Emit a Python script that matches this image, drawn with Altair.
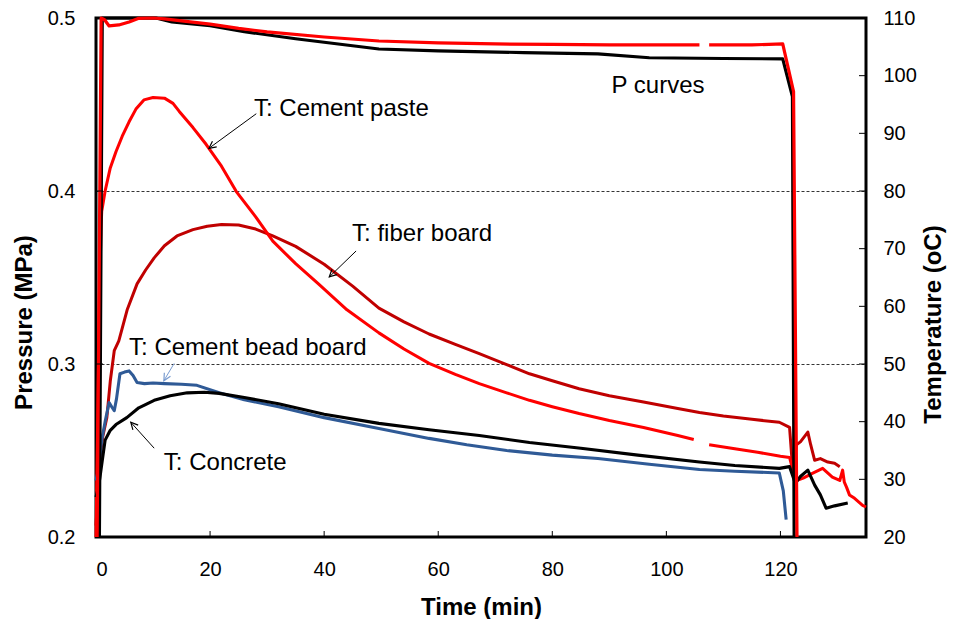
import altair as alt
import pandas as pd

# ---------------- data ----------------
# Pressure, black curve (MPa)
pblack_t = [0.6, 1.1, 5, 10.5, 13.3, 20, 26, 35, 49.6, 60, 75, 88, 97, 110, 120.4, 122.1, 122.4]
pblack_P = [0.200, 0.500, 0.500, 0.500, 0.4977, 0.4955, 0.4921, 0.4880, 0.4821, 0.4810, 0.4800,
            0.4793, 0.4770, 0.4766, 0.4764, 0.4545, 0.200]

# Pressure, red curve (MPa), two pieces (gap near 106 min)
pred_t1 = [0.2, 0.9, 1.5, 2.3, 4, 5.8, 7.5, 10, 12, 15, 20, 25, 30, 40, 49.6, 60, 70, 80, 90, 100, 105.8]
pred_P1 = [0.200, 0.500, 0.499, 0.4954, 0.4960, 0.4977, 0.4998, 0.5000, 0.4995, 0.4983, 0.4965,
           0.4940, 0.4920, 0.4890, 0.4867, 0.4856, 0.4850, 0.4847, 0.4845, 0.4845, 0.4845]
pred_t2 = [107.5, 115, 120.4, 122.3, 122.9]
pred_P2 = [0.4845, 0.4845, 0.4850, 0.4574, 0.200]

# Temperature, cement paste (oC), two pieces
paste_t1 = [0, 0.3, 0.6, 0.9, 1.0, 1.6, 2.5, 3.5, 4.6, 5.8, 7.0, 8.4, 10, 12, 13.5, 14.6, 17, 19.3,
            22, 24.6, 28, 31, 35, 39, 44, 49.6, 54, 58.4, 63, 67.2, 72, 76, 80, 84.7, 90, 96, 102, 104.8]
paste_T1 = [20, 40, 62, 74, 76.5, 80, 84, 86.8, 89.5, 92, 94.2, 95.8, 96.2, 96.1, 95.2, 93.8, 91, 88.1,
            84.3, 79.9, 75.5, 71.3, 67.4, 63.9, 59.4, 55.4, 52.6, 50.1, 48.2, 46.6, 45, 43.7, 42.6, 41.4,
            40.2, 39, 37.6, 36.9]
paste_t2 = [107.5, 112, 116, 120, 121.6, 122.2, 122.8, 124, 125.5, 127.4, 129.1, 130.4, 130.9, 131.2,
            131.6, 132.1, 133, 134.4, 135]
paste_T2 = [36.0, 35.3, 34.7, 34.0, 33.8, 31.5, 29.8, 30.2, 31.0, 31.9, 30.4, 29.8, 31.6, 29.5,
            28.6, 27.3, 26.7, 25.5, 25.2]

# Temperature, fiber board (oC)
fiber_t = [0, 0.3, 0.7, 1.2, 1.9, 2.5, 3.2, 4, 5.5, 7.2, 8.7, 10.2, 12, 14.2, 17, 19.5, 22, 25, 28, 31,
           35, 40, 45, 49.6, 54, 58.4, 63, 67.2, 72, 76, 80, 84.7, 90, 96, 102, 105.8, 110, 115, 119.8,
           121.6, 122.2, 122.8, 123.5, 124.8, 125.3, 126, 127, 128.3, 129.5, 130.4]
fiber_T = [22, 27, 33.8, 37.5, 40.7, 47, 52.3, 54, 59.5, 63.9, 66.3, 68.4, 70.5, 72.2, 73.3, 73.9, 74.2,
           74.1, 73.4, 72.2, 70.4, 67.3, 63.5, 59.7, 57.3, 55.2, 53.4, 51.8, 49.9, 48.3, 47.1, 45.7, 44.5,
           43.4, 42.3, 41.6, 41.0, 40.4, 39.9, 39.0, 31.0, 36.0, 36.5, 38.2, 36.0, 33.3, 33.6, 33.0, 32.8,
           32.2]

# Temperature, cement bead board (oC)
bead_t = [0, 0.5, 1.0, 1.6, 2.3, 2.8, 3.2, 3.6, 4.2, 5.0, 5.8, 6.5, 7.2, 8.5, 10, 12, 15, 17.7, 21.6,
          26, 32, 40, 49.6, 58.4, 65, 72, 80, 88, 97, 105.8, 112, 119.8, 120.5, 121]
bead_T = [29.8, 32, 36.8, 40, 43.3, 42.5, 41.9, 44, 48.3, 48.6, 48.8, 48, 46.8, 46.6, 46.7, 46.6, 46.5,
          46.3, 45.0, 43.8, 42.6, 40.7, 38.8, 37.1, 36.0, 35.0, 34.2, 33.6, 32.6, 31.7, 31.4, 31.1, 28,
          23]

# Temperature, concrete (oC)
conc_t = [0, 0.4, 0.7, 1.2, 1.6, 2.5, 3.5, 5.4, 7.5, 10.2, 13, 16, 19, 21.6, 26, 32, 40, 49.6, 58.4,
          67.2, 76, 85, 95, 105.8, 112, 119.8, 121.6, 122.6, 123.5, 124.8, 126, 127, 128, 129.5, 131.8]
conc_T = [26.9, 28.5, 30.4, 34, 36.8, 38.5, 39.5, 40.7, 42.4, 43.7, 44.5, 45.0, 45.1, 44.9, 44.2, 43.1,
          41.3, 39.7, 38.6, 37.6, 36.4, 35.4, 34.2, 33.0, 32.4, 31.9, 32.2, 29.3, 30.5, 31.6, 29.0, 27.3,
          25.0, 25.4, 25.9]

# Annotations (time, temperature)
label_text = ["T: Cement paste", "P curves", "T: fiber board", "T: Cement bead board", "T: Concrete"]
label_t = [27.7, 90.4, 44.9, 5.8, 11.9]
label_T = [94.3, 98.2, 72.6, 52.8, 32.8]

arrow_t0 = [28.1, 45.6, 13.7, 10.2]
arrow_T0 = [93.4, 69.6, 50.1, 35.4]
arrow_t1 = [19.8, 40.9, 11.9, 6.1]
arrow_T1 = [87.4, 65.1, 47.1, 39.9]
arrow_angle = [233, 226, 210, 318]
arrow_color = ["#000000", "#000000", "#7A9CD0", "#000000"]

x_ticks = [0, 20, 40, 60, 80, 100, 120]
p_ticks = [0.2, 0.3, 0.4, 0.5]
t_ticks = [20, 30, 40, 50, 60, 70, 80, 90, 100, 110]

series_names = ["fiber", "paste", "bead", "conc", "pblack", "pred"]
series_colors = ["#C00000", "#FF0000", "#2F5A96", "#000000", "#000000", "#FF0000"]
series_widths = [3.0, 3.2, 2.6, 3.8, 5.0, 1.6]

# ---------------- tables ----------------
def piece(series, seg, ts, vs, col):
    return pd.DataFrame({"t": ts, col: vs, "series": series, "seg": seg, "i": list(range(len(ts)))})

temp_df = pd.concat([
    piece("fiber", "fiber", fiber_t, fiber_T, "T"),
    piece("paste", "paste1", paste_t1, paste_T1, "T"),
    piece("paste", "paste2", paste_t2, paste_T2, "T"),
    piece("bead", "bead", bead_t, bead_T, "T"),
    piece("conc", "conc", conc_t, conc_T, "T"),
], ignore_index=True)

press_df = pd.concat([
    piece("pblack", "pblack", pblack_t, pblack_P, "P"),
    piece("pred", "pred1", pred_t1, pred_P1, "P"),
    piece("pred", "pred2", pred_t2, pred_P2, "P"),
], ignore_index=True)

labels_df = pd.DataFrame({"t": label_t, "T": label_T, "text": label_text})
arrows_df = pd.DataFrame({"t": arrow_t0, "T": arrow_T0, "t1": arrow_t1, "T1": arrow_T1,
                          "ang": arrow_angle, "col": arrow_color})
xt_df = pd.DataFrame({"t": x_ticks[1:]})
pt_df = pd.DataFrame({"P": p_ticks[1:-1]})
tt_df = pd.DataFrame({"T": t_ticks[1:-1]})

# ---------------- encodings ----------------
W, H = 770, 519
FONT = "Liberation Sans"

x_scale = alt.Scale(domain=[0, 135], nice=False, zero=False)
x_axis = alt.Axis(values=x_ticks, title="Time (min)", ticks=False, domain=False, grid=False,
                  labelFontSize=20, labelFont=FONT, labelColor="#000", labelPadding=22,
                  titleFontSize=24, titleFont=FONT, titleFontWeight="bold", titleColor="#000",
                  titleBaseline="middle", titleY=70)
T_scale = alt.Scale(domain=[20, 110], nice=False, zero=False)
T_axis = alt.Axis(orient="right", values=t_ticks, title="Temperature (oC)", ticks=False, domain=False,
                  grid=False, labelFontSize=20, labelFont=FONT, labelColor="#000", labelPadding=17,
                  titleFontSize=24, titleFont=FONT, titleFontWeight="bold", titleColor="#000",
                  titleAngle=270, titleBaseline="middle", titleX=67, titleY=306)
P_scale = alt.Scale(domain=[0.2, 0.5], nice=False, zero=False)
P_axis = alt.Axis(orient="left", values=p_ticks, format=".1f", title="Pressure (MPa)", ticks=False,
                  domain=False, grid=True, gridColor="#000", gridDash=[3, 2], gridWidth=0.8,
                  labelFontSize=20, labelFont=FONT, labelColor="#000", labelPadding=21,
                  titleFontSize=24, titleFont=FONT, titleFontWeight="bold", titleColor="#000",
                  titleAngle=270, titleBaseline="middle", titleX=-72, titleY=304)

X = alt.X("t:Q", scale=x_scale, axis=x_axis)
YT = alt.Y("T:Q", scale=T_scale, axis=T_axis)
YP = alt.Y("P:Q", scale=P_scale, axis=P_axis)

color_enc = alt.Color("series:N", scale=alt.Scale(domain=series_names, range=series_colors), legend=None)
width_enc = alt.StrokeWidth("series:N", scale=alt.Scale(domain=series_names, range=series_widths),
                            legend=None)

# ---------------- temperature layer ----------------
t_lines = alt.Chart(temp_df).mark_line(strokeJoin="round").encode(
    x=X, y=YT, color=color_enc, strokeWidth=width_enc, detail="seg:N", order="i:Q",
)

arrow_lines = alt.Chart(arrows_df).mark_rule(strokeWidth=1).encode(
    x=X, y=YT, x2="t1:Q", y2="T1:Q",
    stroke=alt.Stroke("col:N", scale=None),
)
arrow_heads = alt.Chart(arrows_df).mark_point(
    shape="M-0.5,1L0,0L0.5,1", filled=False, size=200, strokeWidth=1.2, opacity=1
).encode(
    x=alt.X("t1:Q", scale=x_scale, axis=x_axis),
    y=alt.Y("T1:Q", scale=T_scale, axis=T_axis),
    angle=alt.Angle("ang:Q", scale=None),
    stroke=alt.Stroke("col:N", scale=None),
)
texts = alt.Chart(labels_df).mark_text(align="left", baseline="middle", fontSize=24, font=FONT,
                                       color="#000").encode(x=X, y=YT, text="text:N")
t_ticks_marks = alt.Chart(tt_df).mark_rule(color="#000", strokeWidth=1).encode(
    y=YT, x=alt.value(W - 7), x2=alt.value(W))

temp_layer = alt.layer(t_lines, arrow_lines, arrow_heads, texts, t_ticks_marks)

# ---------------- pressure layer ----------------
p_lines = alt.Chart(press_df).mark_line(strokeJoin="round").encode(
    x=X, y=YP, color=color_enc, strokeWidth=width_enc, detail="seg:N", order="i:Q",
)
p_ticks_marks = alt.Chart(pt_df).mark_rule(color="#000", strokeWidth=1).encode(
    y=YP, x=alt.value(0), x2=alt.value(7))
x_ticks_marks = alt.Chart(xt_df).mark_rule(color="#000", strokeWidth=1).encode(
    x=X, y=alt.value(H - 6), y2=alt.value(H))

press_layer = alt.layer(p_lines, p_ticks_marks, x_ticks_marks)

chart = alt.layer(temp_layer, press_layer).resolve_scale(y="independent").properties(
    width=W, height=H,
    autosize=alt.AutoSizeParams(type="none"),
    padding={"left": 88, "top": 10, "right": 82, "bottom": 82},
    background="white",
).configure_view(stroke="#000", strokeWidth=3)

chart.save("out.html", embed_options={"renderer": "svg", "actions": False})
